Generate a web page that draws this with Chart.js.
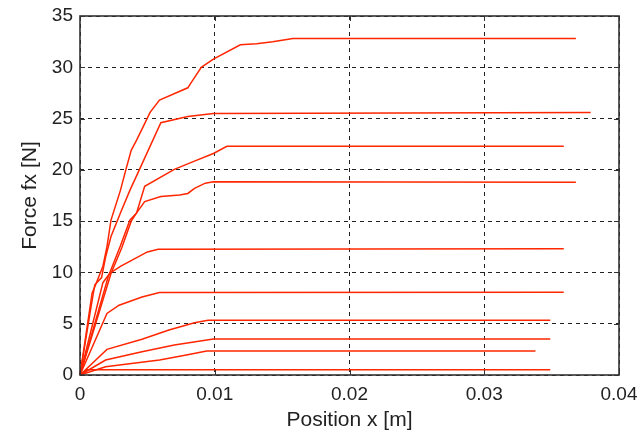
<!DOCTYPE html>
<html>
<head>
<meta charset="utf-8">
<script src="https://cdn.jsdelivr.net/npm/chart.js@4.4.1/dist/chart.umd.min.js"></script>
<style>
  html, body { margin: 0; padding: 0; background: #fff; }
  #wrap { width: 640px; height: 440px; }
</style>
</head>
<body>
<div id="wrap"><canvas id="forceChart" width="640" height="440"></canvas></div>
<script>
// axis ticks
const xTicks = [0, 0.01, 0.02, 0.03, 0.04];
const yTicks = [0, 5, 10, 15, 20, 25, 30, 35];

// force vs. position, one run per list pair
const posA = [0, 0.0009, 0.0011, 0.0017, 0.002, 0.0023, 0.003, 0.0034, 0.0038, 0.0042, 0.0048, 0.0052, 0.0059, 0.008, 0.0083, 0.009, 0.0099, 0.0119, 0.0131, 0.0143, 0.0158, 0.0368];
const forceA = [0, 8.0, 8.6, 10.6, 12.5, 15.1, 18.0, 20.0, 21.9, 22.9, 24.5, 25.6, 26.8, 28.0, 28.6, 30.0, 30.8, 32.2, 32.3, 32.5, 32.8, 32.8];

const posB = [0, 0.0008, 0.0011, 0.0016, 0.0019, 0.0023, 0.003, 0.0037, 0.0044, 0.006, 0.008, 0.0099, 0.0379];
const forceB = [0, 6.5, 8.8, 9.5, 11.5, 13.5, 15.8, 18.0, 20.0, 24.6, 25.2, 25.5, 25.6];

const posC = [0, 0.0021, 0.003, 0.0037, 0.0042, 0.0048, 0.007, 0.0084, 0.0099, 0.0109, 0.0359];
const forceC = [0, 9.6, 12.6, 15.1, 15.8, 18.4, 20.05, 20.8, 21.6, 22.3, 22.3];

const posD = [0, 0.0023, 0.0031, 0.0038, 0.0042, 0.0048, 0.006, 0.0074, 0.008, 0.0085, 0.0093, 0.0099, 0.0368];
const forceD = [0, 9.9, 12.4, 15.0, 15.8, 16.9, 17.4, 17.55, 17.7, 18.2, 18.7, 18.85, 18.8];

const posE = [0, 0.0017, 0.0022, 0.003, 0.004, 0.005, 0.0058, 0.0359];
const forceE = [0, 9.0, 9.9, 10.6, 11.3, 12.0, 12.25, 12.3];

const posF = [0, 0.002, 0.0029, 0.0046, 0.0059, 0.0359];
const forceF = [0, 6.0, 6.8, 7.6, 8.05, 8.06];

const posG = [0, 0.002, 0.0046, 0.0066, 0.0085, 0.0095, 0.0349];
const forceG = [0, 2.5, 3.48, 4.39, 5.1, 5.33, 5.33];

const posH = [0, 0.0019, 0.0046, 0.007, 0.0099, 0.0349];
const forceH = [0, 1.46, 2.27, 2.92, 3.5, 3.5];

const posI = [0, 0.0019, 0.0059, 0.0077, 0.0094, 0.0338];
const forceI = [0, 0.8, 1.46, 1.9, 2.34, 2.34];

const posJ = [0, 0.0005, 0.0349];
const forceJ = [0, 0.52, 0.52];

const runs = [
  [posA, forceA], [posB, forceB], [posC, forceC], [posD, forceD], [posE, forceE],
  [posF, forceF], [posG, forceG], [posH, forceH], [posI, forceI], [posJ, forceJ]
];

const lineRed = 'rgb(255, 38, 0)';
const textColor = '#222';
const fontFamily = '"Liberation Sans", Arial, Helvetica, sans-serif';

// solid box round the plot plus short inward tick marks
const boxFrame = {
  id: 'boxFrame',
  afterDatasetsDraw(chart) {
    const { ctx, chartArea: a, scales: { x, y } } = chart;
    ctx.save();
    ctx.setLineDash([]);
    ctx.strokeStyle = '#333';
    ctx.lineWidth = 1;
    ctx.beginPath();
    xTicks.forEach(v => {
      const px = Math.round(x.getPixelForValue(v)) + 0.5;
      ctx.moveTo(px, a.bottom); ctx.lineTo(px, a.bottom - 5);
      ctx.moveTo(px, a.top); ctx.lineTo(px, a.top + 5);
    });
    yTicks.forEach(v => {
      const py = Math.round(y.getPixelForValue(v)) + 0.5;
      ctx.moveTo(a.left, py); ctx.lineTo(a.left + 5, py);
      ctx.moveTo(a.right, py); ctx.lineTo(a.right - 5, py);
    });
    ctx.stroke();
    ctx.lineWidth = 1.6;
    ctx.strokeRect(a.left, a.top, a.right - a.left, a.bottom - a.top);
    ctx.restore();
  }
};

new Chart(document.getElementById('forceChart'), {
  type: 'scatter',
  data: {
    datasets: runs.map(([xs, ys]) => ({
      data: xs.map((v, i) => ({ x: v, y: ys[i] })),
      showLine: true,
      borderColor: lineRed,
      borderWidth: 1.5,
      pointRadius: 0,
      tension: 0,
      clip: false
    }))
  },
  options: {
    responsive: false,
    animation: false,
    layout: { padding: { left: 0, right: 21, top: 16, bottom: 0 } },
    plugins: { legend: { display: false }, tooltip: { enabled: false } },
    scales: {
      x: {
        type: 'linear',
        min: 0,
        max: 0.04,
        afterBuildTicks: s => { s.ticks = xTicks.map(v => ({ value: v })); },
        afterFit: s => { s.height = 65; s.paddingLeft = 0; s.paddingRight = 0; },
        grid: { color: '#222', lineWidth: 1, drawTicks: false },
        border: { display: false, dash: [4, 4] },
        ticks: {
          color: textColor,
          font: { family: fontFamily, size: 19 },
          padding: 8,
          maxRotation: 0,
          callback: v => (v === 0 ? '0' : v.toFixed(2))
        },
        title: {
          display: true,
          text: 'Position x [m]',
          color: textColor,
          font: { family: fontFamily, size: 21 },
          padding: { top: 0, bottom: 7 }
        }
      },
      y: {
        min: 0,
        max: 35,
        afterBuildTicks: s => { s.ticks = yTicks.map(v => ({ value: v })); },
        afterFit: s => { s.width = 80; s.paddingTop = 0; s.paddingBottom = 0; },
        grid: { color: '#222', lineWidth: 1, drawTicks: false },
        border: { display: false, dash: [4, 4] },
        ticks: {
          color: textColor,
          font: { family: fontFamily, size: 19 },
          padding: 7
        },
        title: {
          display: true,
          text: 'Force fx [N]',
          color: textColor,
          font: { family: fontFamily, size: 21 },
          padding: { top: 18, bottom: 0 }
        }
      }
    }
  },
  plugins: [boxFrame]
});
</script>
</body>
</html>
